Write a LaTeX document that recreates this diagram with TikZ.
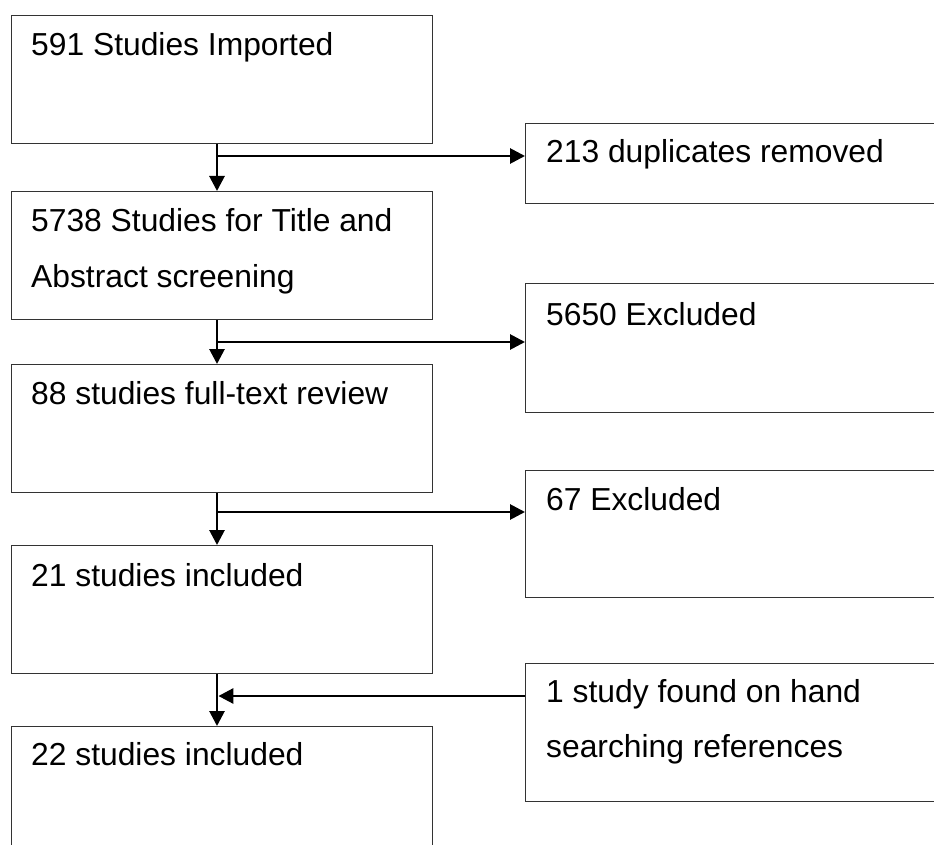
\documentclass[tikz,border=0pt]{standalone}
\usepackage{fontspec}
\setmainfont{Liberation Sans}
\usetikzlibrary{arrows.meta,calc}
\begin{document}
\begin{tikzpicture}[x=1pt,y=-1pt,
  boxl/.style={draw=black!80,line width=1.2pt,rectangle,inner sep=0pt,anchor=north west,minimum width=421pt},
  boxr/.style={draw=black!80,line width=1.2pt,rectangle,inner sep=0pt,anchor=north west,minimum width=430pt},
  txt/.style={anchor=base west,inner sep=0pt,align=left,font=\fontsize{31.8}{55}\selectfont},
  arr/.style={line width=2.8pt,-{Triangle[length=15pt,width=15pt]}}]
\clip (0,0) rectangle (934,845);
\fill[white] (0,0) rectangle (934,845);
% left boxes
\node[boxl,minimum height=128pt] (b1) at (11,15) {};
\node[boxl,minimum height=128pt] (b2) at (11,191) {};
\node[boxl,minimum height=128pt] (b3) at (11,364) {};
\node[boxl,minimum height=128pt] (b4) at (11,545) {};
\node[boxl,minimum height=140pt] (b5) at (11,726) {};
% right boxes
\node[boxr,minimum height=80pt] (r1) at (525,123) {};
\node[boxr,minimum height=129pt] (r2) at (525,283) {};
\node[boxr,minimum height=127pt] (r3) at (525,470) {};
\node[boxr,minimum height=138pt] (r4) at (525,663) {};
% texts
\node[txt] (t1) at ($(b1.north west)+(20,41)$) {591 Studies Imported};
\node[txt] (t2) at ($(b2.north west)+(20,96)$) {5738 Studies for Title and\\Abstract screening};
\node[txt] (t3) at ($(b3.north west)+(20,40)$) {88 studies full-text review};
\node[txt] (t4) at ($(b4.north west)+(20,41)$) {21 studies included};
\node[txt] (t5) at ($(b5.north west)+(20,39)$) {22 studies included};
\node[txt] (u1) at ($(r1.north west)+(21,40)$) {213 duplicates removed};
\node[txt] (u2) at ($(r2.north west)+(21,42)$) {5650 Excluded};
\node[txt] (u3) at ($(r3.north west)+(21,40)$) {67 Excluded};
\node[txt] (u4) at ($(r4.north west)+(21,94)$) {1 study found on hand\\searching references};
% junctions
\coordinate (j1) at (217,156);
\coordinate (j2) at (217,342);
\coordinate (j3) at (217,512);
\coordinate (j4) at (217,696);
% connectors
\draw[arr] (b1.south -| j1) -- (b2.north -| j1);
\draw[arr] (b2.south -| j2) -- (b3.north -| j2);
\draw[arr] (b3.south -| j3) -- (b4.north -| j3);
\draw[arr] (b4.south -| j4) -- (b5.north -| j4);
\draw[arr] ($(j1)+(1.4,0)$) -- (j1 -| r1.west);
\draw[arr] ($(j2)+(1.4,0)$) -- (j2 -| r2.west);
\draw[arr] ($(j3)+(1.4,0)$) -- (j3 -| r3.west);
\draw[arr] (j4 -| r4.west) -- ($(j4)+(1.4,0)$);
\end{tikzpicture}
\end{document}
